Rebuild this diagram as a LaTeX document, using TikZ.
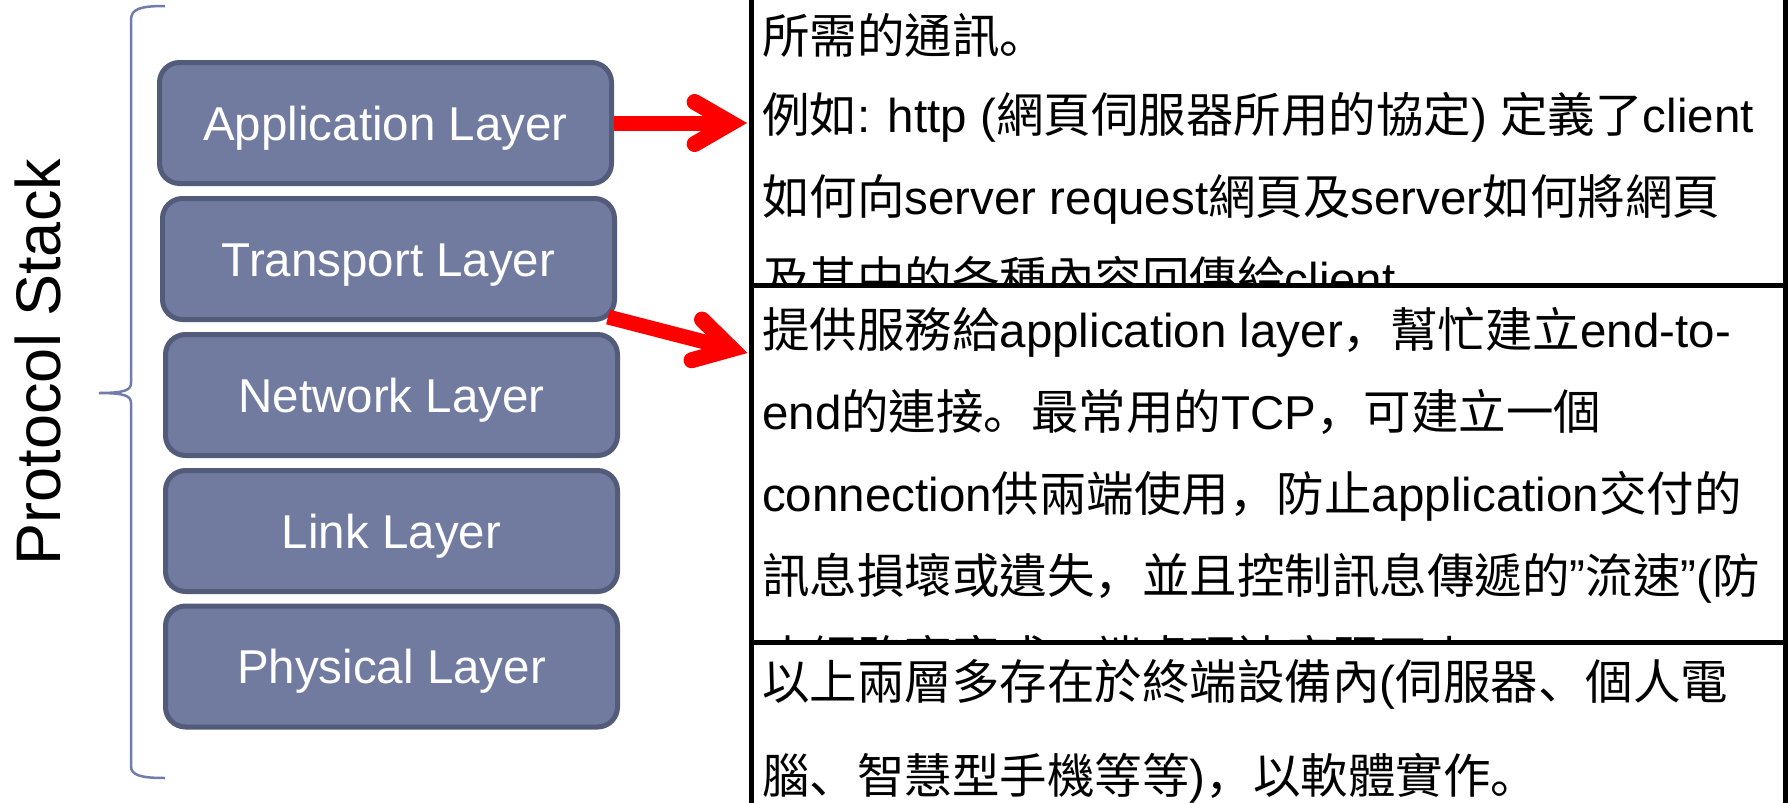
\documentclass[tikz,border=0pt]{standalone}
\usepackage{fontspec}
\setmainfont{Liberation Sans}
\newfontfamily\hanfont{Noto Sans CJK TC}
\newfontfamily\punctfont{Noto Sans CJK SC}
\newcommand\zh[1]{{\hanfont #1}}
\newcommand\zp[1]{{\punctfont #1}}
\usetikzlibrary{calc}

\definecolor{layerfill}{RGB}{113,123,160}
\definecolor{layerdraw}{RGB}{83,91,122}
\definecolor{bracecol}{RGB}{112,124,170}
\definecolor{arrowred}{RGB}{255,0,0}

\tikzset{
  layer/.style={draw=layerdraw, fill=layerfill, line width=5pt, rounded corners=20pt,
    minimum width=452pt, minimum height=121pt, inner sep=0pt, text=white,
    font=\fontsize{47.5}{47.5}\selectfont, text height=34pt, text depth=0pt},
  panel/.style={draw=black, fill=white, line width=5pt, inner sep=0pt, minimum width=1034pt},
  textline/.style={anchor=base west, inner sep=0pt, font=\fontsize{47.5}{47.5}\selectfont},
  shaft/.style={draw=arrowred, line width=15pt},
  barb/.style={draw=arrowred, line width=16pt, line cap=round, line join=miter},
  brace/.style={draw=bracecol, line width=2.5pt},
}

\begin{document}
\begin{tikzpicture}[x=1pt, y=-1pt]
\useasboundingbox (0,0) rectangle (1789,803);
\clip (0,0) rectangle (1789,803);

% vertical title
\node[rotate=90, anchor=base, inner sep=0pt, font=\fontsize{63}{63}\selectfont] (title) at (60,362) {Protocol Stack};

% curly brace grouping the layers
\draw[brace] (165,6) .. controls (140,6) and (131,9) .. (131,20)
  -- (131,383) .. controls (131,390) and (125,393) .. (99,393)
  .. controls (125,393) and (131,396) .. (131,403)
  -- (131,766) .. controls (131,775) and (140,778) .. (165,778);

% the five layers
\node[layer] (app) at (385.5,123) {Application Layer};
\node[layer] (tr)  at (388.5,259) {Transport Layer};
\node[layer] (net) at (391.5,395) {Network Layer};
\node[layer] (lnk) at (391.5,531) {Link Layer};
\node[layer] (phy) at (391.5,666.5) {Physical Layer};

% first description panel (application layer)
\node[panel, minimum height=385.5pt] (d1) at (1268,92.75) {};
\node[textline] (t11) at (762,53)  {\zh{所需的通訊}\zp{。}};
\node[textline] (t12) at (762,132) {\zh{例如}: http (\zh{網頁伺服器所用的協定}) \zh{定義了}client};
\node[textline] (t13) at (762,214) {\zh{如何向}server request\zh{網頁及}server\zh{如何將網頁}};
\node[textline] (t14) at (762,296) {\zh{及其中的各種內容回傳給}client};

% second description panel (transport layer)
\node[panel, minimum height=356.5pt] (d2) at (1268,463.75) {};
\node[textline] (t21) at (762,347) {\zh{提供服務給}application layer\zp{，}\zh{幫忙建立}end-to-};
\node[textline] (t22) at (762,429) {end\zh{的連接}\zp{。}\zh{最常用的}TCP\zp{，}\zh{可建立一個}};
\node[textline] (t23) at (762,511) {connection\zh{供兩端使用}\zp{，}\zh{防止}application\zh{交付的}};
\node[textline] (t24) at (762,593) {\zh{訊息損壞或遺失}\zp{，}\zh{並且控制訊息傳遞的}”\zh{流速}”(\zh{防}};
\node[textline] (t25) at (762,675) {\zh{止網路壅塞或一端處理速度跟不上})};

% third description panel
\node[panel, minimum height=258pt] (d3) at (1268,771) {};
\node[textline] (t31) at (762,699) {\zh{以上兩層多存在於終端設備內}(\zh{伺服器}\zp{、}\zh{個人電}};
\node[textline] (t32) at (762,793) {\zh{腦}\zp{、}\zh{智慧型手機等等})\zp{，}\zh{以軟體實作}\zp{。}};

% red arrows from the layers to their descriptions
\coordinate (tip1) at ($(d1.west |- app.east)+(-1.5,0)$);
\coordinate (c1) at ($(tip1)!16pt!(app.east)$);
\draw[shaft] (app.east) -- (c1);
\draw[barb] ($(c1)!42pt!30:(app.east)$) -- (c1) -- ($(c1)!42pt!-30:(app.east)$);

\coordinate (s2) at ($(tr.south east)+(-9,-5)$);
\coordinate (tip2) at (747.5,353);
\coordinate (c2) at ($(tip2)!16pt!(s2)$);
\draw[shaft] (s2) -- (c2);
\draw[barb] ($(c2)!42pt!30:(s2)$) -- (c2) -- ($(c2)!42pt!-30:(s2)$);
\end{tikzpicture}
\end{document}
